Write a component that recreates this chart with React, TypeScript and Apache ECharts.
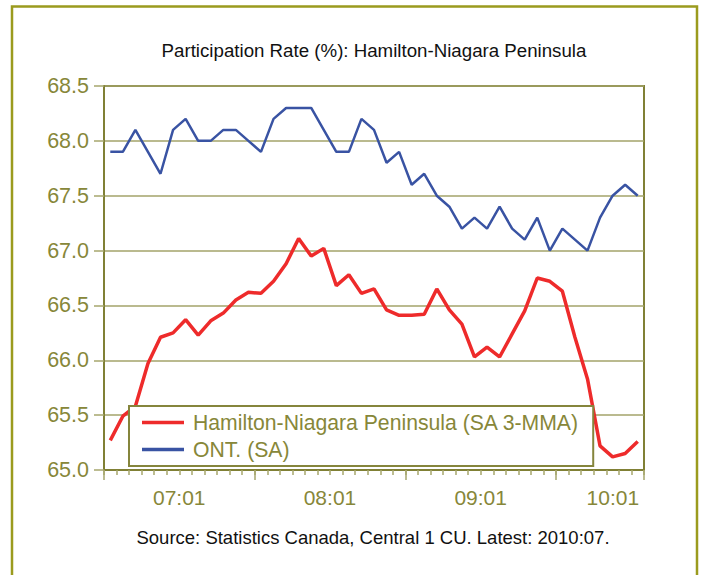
import React, { useEffect, useRef } from 'react';
import * as echarts from 'echarts';

const categories = [
  '07:01', '07:02', '07:03', '07:04', '07:05', '07:06', '07:07', '07:08', '07:09', '07:10', '07:11', '07:12',
  '08:01', '08:02', '08:03', '08:04', '08:05', '08:06', '08:07', '08:08', '08:09', '08:10', '08:11', '08:12',
  '09:01', '09:02', '09:03', '09:04', '09:05', '09:06', '09:07', '09:08', '09:09', '09:10', '09:11', '09:12',
  '10:01', '10:02', '10:03', '10:04', '10:05', '10:06', '10:07',
];

const hamilton = [
  65.27, 65.49, 65.58, 65.97, 66.21, 66.25, 66.37, 66.23, 66.36, 66.43, 66.55, 66.62,
  66.61, 66.72, 66.88, 67.11, 66.95, 67.02, 66.68, 66.78, 66.61, 66.65, 66.46, 66.41,
  66.41, 66.42, 66.65, 66.46, 66.33, 66.03, 66.12, 66.03, 66.24, 66.45, 66.75, 66.72,
  66.63, 66.21, 65.83, 65.22, 65.12, 65.15, 65.26,
];

const ontario = [
  67.9, 67.9, 68.1, 67.9, 67.7, 68.1, 68.2, 68.0, 68.0, 68.1, 68.1, 68.0,
  67.9, 68.2, 68.3, 68.3, 68.3, 68.1, 67.9, 67.9, 68.2, 68.1, 67.8, 67.9,
  67.6, 67.7, 67.5, 67.4, 67.2, 67.3, 67.2, 67.4, 67.2, 67.1, 67.3, 67.0,
  67.2, 67.1, 67.0, 67.3, 67.5, 67.6, 67.5,
];

const seriesNames = ['Hamilton-Niagara Peninsula (SA 3-MMA)', 'ONT. (SA)'];
const titleText = 'Participation Rate (%): Hamilton-Niagara Peninsula';
const sourceText = 'Source: Statistics Canada, Central 1 CU. Latest: 2010:07.';
const yMin = 65;
const yMax = 68.5;
const yStep = 0.5;

const FONT = '"Liberation Sans", Arial, sans-serif';
const OLIVE_TEXT = '#878739';
const OLIVE_LINE = '#808035';
const OLIVE_TICK = '#a6a66c';
const RED = '#ee2b2b';
const BLUE = '#3953a3';

export default function App() {
  const ref = useRef<HTMLDivElement>(null);

  useEffect(() => {
    const chart = echarts.init(ref.current!, null, { renderer: 'svg' });
    chart.setOption({
      animation: false,
      backgroundColor: '#ffffff',
      textStyle: { fontFamily: FONT },
      graphic: [
        {
          type: 'rect',
          silent: true,
          shape: { x: 12, y: 6.5, width: 685, height: 620 },
          style: { fill: 'none', stroke: '#9b9b1e', lineWidth: 2.5 },
        },
        {
          type: 'text',
          x: 374,
          y: 50,
          style: {
            text: titleText,
            fontSize: 18.7,
            fontFamily: FONT,
            fill: '#111111',
            align: 'center',
            verticalAlign: 'middle',
          },
        },
        {
          type: 'text',
          x: 373,
          y: 537,
          style: {
            text: sourceText,
            fontSize: 18.5,
            fontFamily: FONT,
            fill: '#111111',
            align: 'center',
            verticalAlign: 'middle',
          },
        },
      ],
      grid: {
        left: 104,
        right: 58,
        top: 86,
        bottom: 105,
        show: true,
        borderColor: OLIVE_LINE,
        borderWidth: 2,
        backgroundColor: 'transparent',
      },
      legend: {
        orient: 'vertical',
        left: 129,
        top: 406,
        padding: [6, 14, 6, 13],
        itemGap: 6,
        itemWidth: 42,
        itemHeight: 3.5,
        icon: 'rect',
        backgroundColor: '#ffffff',
        borderColor: '#85853c',
        borderWidth: 2,
        borderRadius: 0,
        textStyle: {
          color: OLIVE_TEXT,
          fontSize: 21.2,
          fontFamily: FONT,
          lineHeight: 21,
          padding: [0, 0, 0, 4],
        },
        data: seriesNames,
      },
      xAxis: [
        {
          type: 'category',
          data: categories,
          boundaryGap: true,
          position: 'bottom',
          axisLine: { show: true, lineStyle: { color: OLIVE_LINE, width: 2 } },
          axisTick: { show: true, interval: 0, length: 5, lineStyle: { color: OLIVE_TICK, width: 1.5 } },
          axisLabel: {
            interval: (i: number) => i % 12 === 0,
            formatter: (v: string, i: number) => (i === 36 ? `{b|${v}}` : `{a|${v}}`),
            margin: 17,
            color: OLIVE_TEXT,
            fontSize: 21,
            fontFamily: FONT,
            rich: {
              a: { padding: [0, 0, 0, 138], fontSize: 21, color: OLIVE_TEXT, fontFamily: FONT },
              b: { padding: [0, 0, 0, 101], fontSize: 21, color: OLIVE_TEXT, fontFamily: FONT },
            },
          },
          splitLine: { show: false },
        },
        {
          type: 'category',
          data: categories,
          boundaryGap: true,
          position: 'bottom',
          axisLine: { show: false },
          axisTick: {
            show: true,
            interval: (i: number) => i % 12 === 0,
            length: 10,
            lineStyle: { color: OLIVE_TICK, width: 1.5 },
          },
          axisLabel: { show: false },
          splitLine: { show: false },
        },
      ],
      yAxis: {
        type: 'value',
        min: yMin,
        max: yMax,
        interval: yStep,
        axisLine: { show: true, lineStyle: { color: OLIVE_LINE, width: 2 } },
        axisTick: { show: true, length: 10, lineStyle: { color: OLIVE_TICK, width: 1.5 } },
        axisLabel: {
          formatter: (v: number) => v.toFixed(1),
          color: OLIVE_TEXT,
          fontSize: 21.5,
          fontFamily: FONT,
          margin: 15,
        },
        splitLine: { show: true, lineStyle: { color: '#a3a36a', width: 1.5 } },
      },
      series: [
        {
          name: seriesNames[0],
          type: 'line',
          data: hamilton,
          xAxisIndex: 0,
          symbol: 'none',
          showSymbol: false,
          color: RED,
          itemStyle: { color: RED },
          lineStyle: { color: RED, width: 3.5 },
          z: 3,
        },
        {
          name: seriesNames[1],
          type: 'line',
          data: ontario,
          xAxisIndex: 0,
          symbol: 'none',
          showSymbol: false,
          color: BLUE,
          itemStyle: { color: BLUE },
          lineStyle: { color: BLUE, width: 2.5 },
          z: 3,
        },
      ],
    });
    return () => chart.dispose();
  }, []);

  return (
    <div
      ref={ref}
      style={{ position: 'absolute', left: 0, top: 0, width: 702, height: 575, background: '#fff' }}
    />
  );
}
